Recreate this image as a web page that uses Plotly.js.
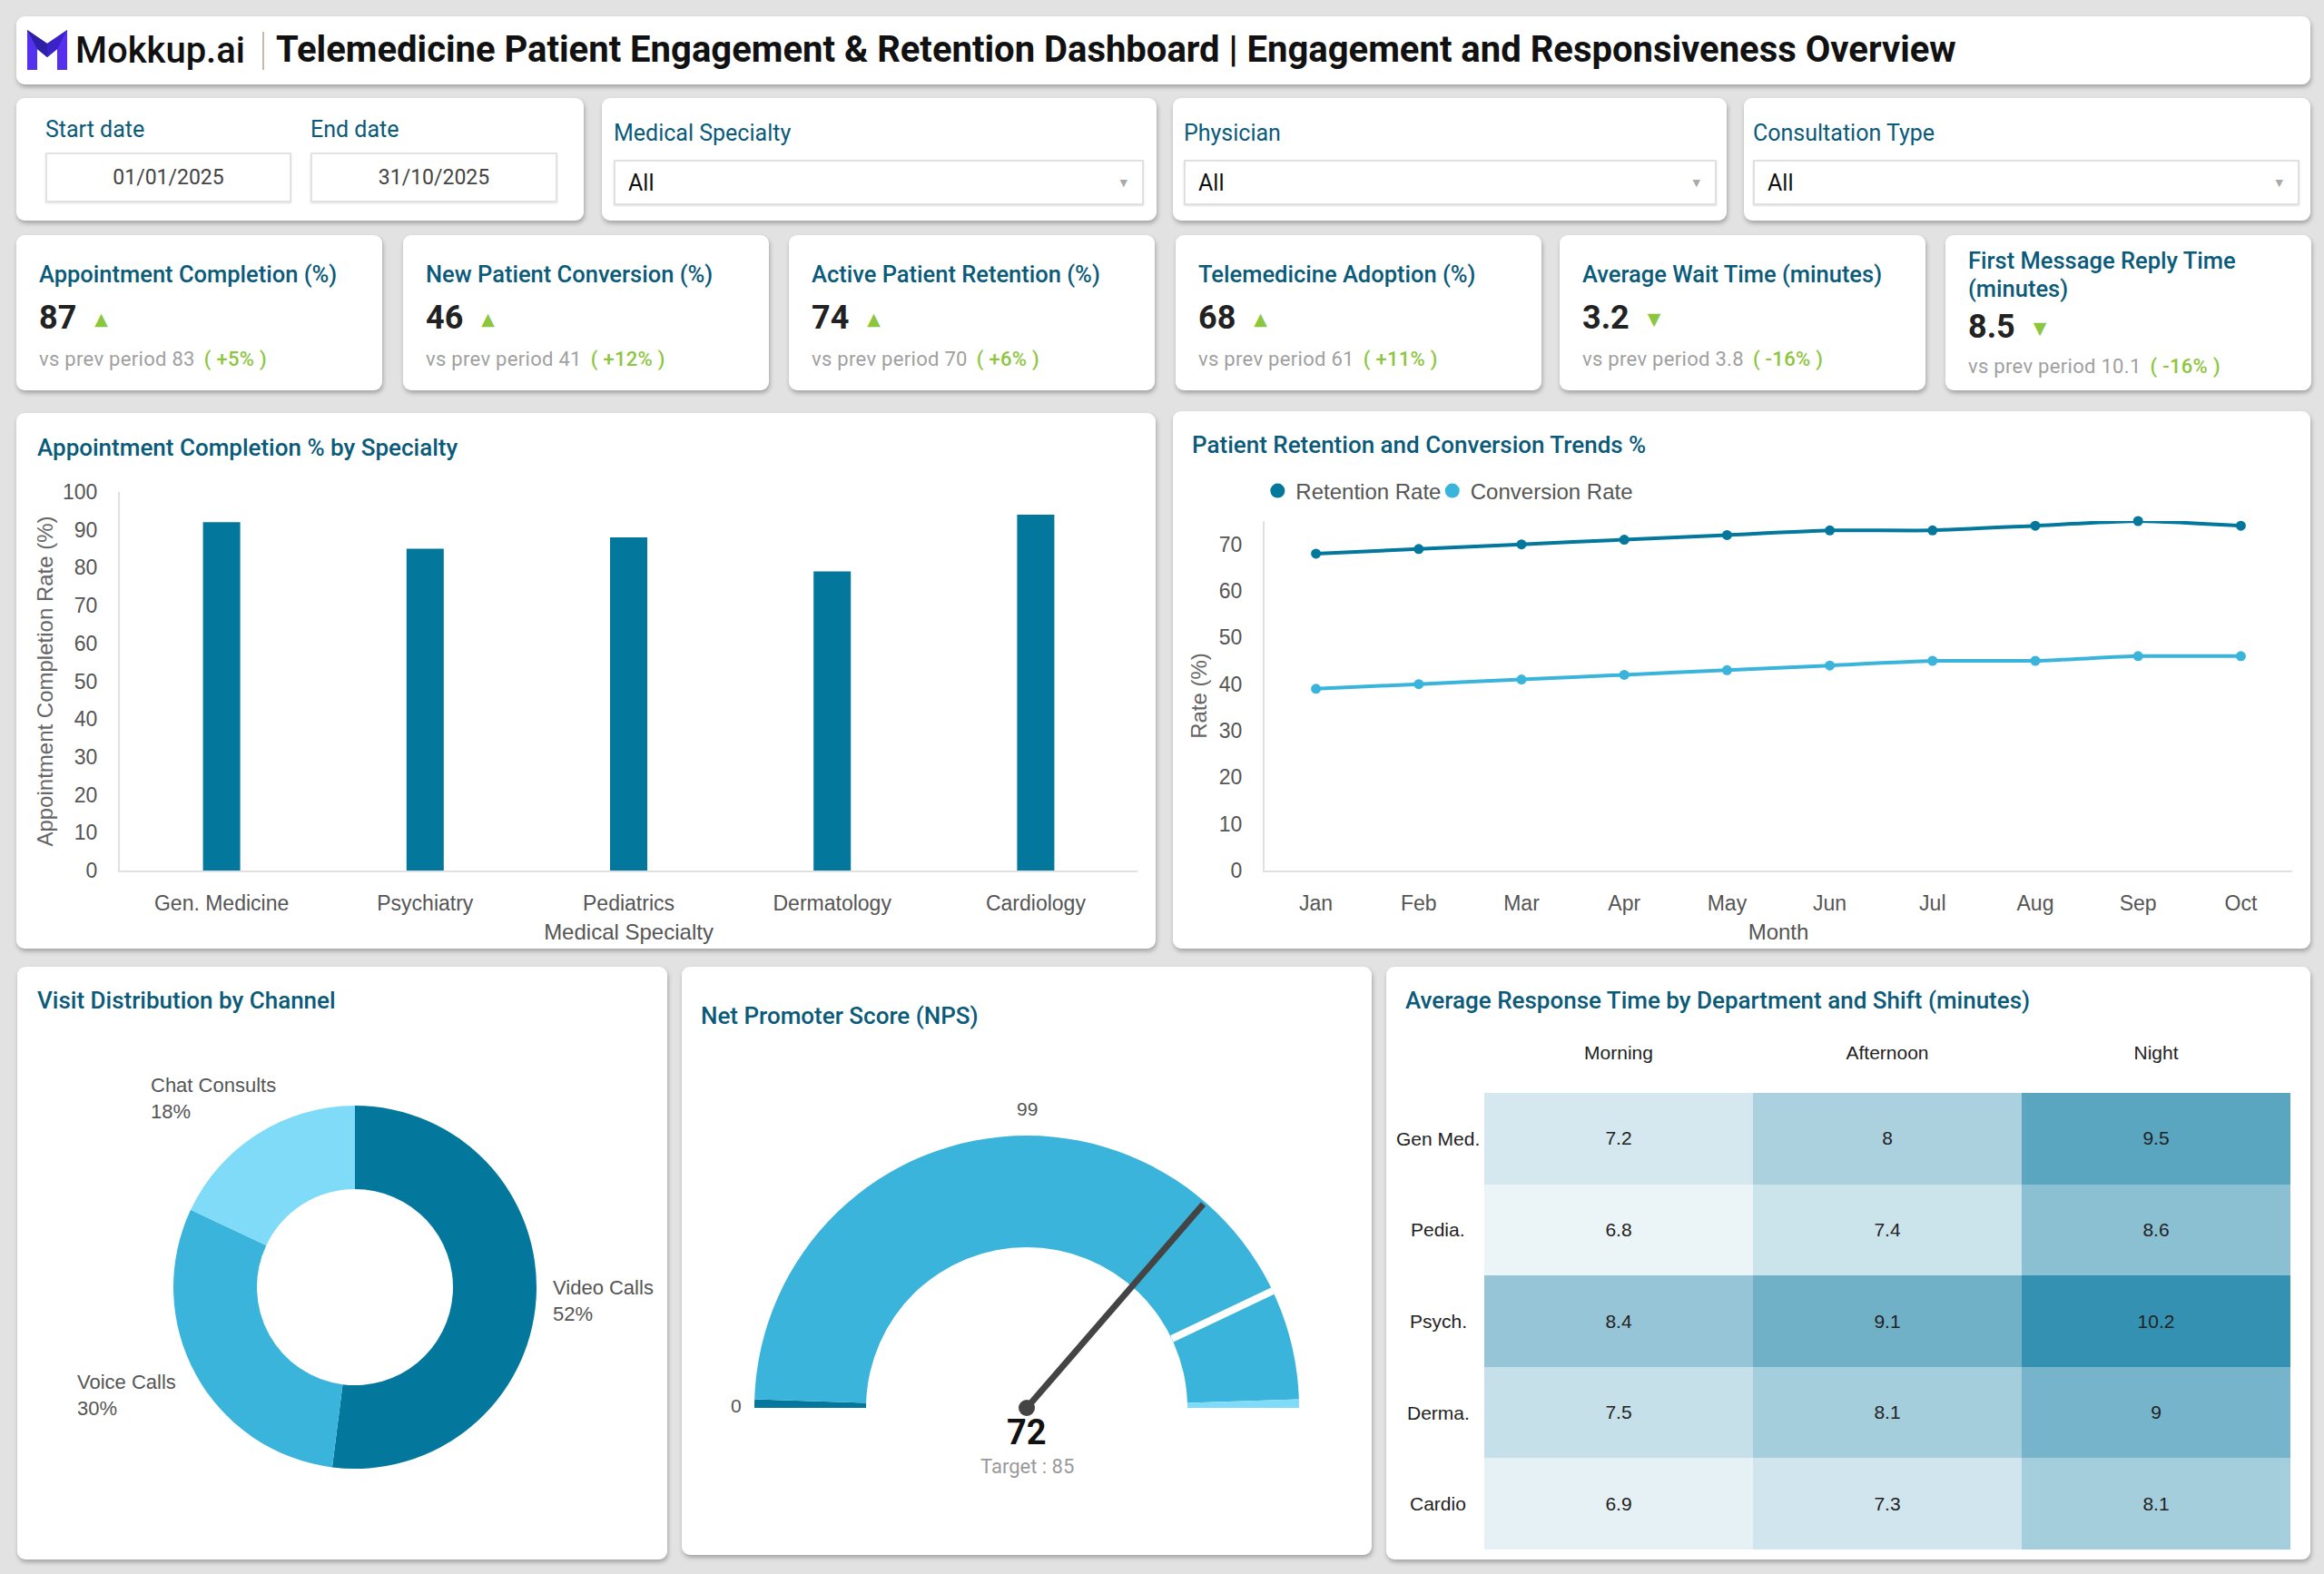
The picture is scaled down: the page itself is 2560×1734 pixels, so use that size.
<!DOCTYPE html>
<html>
<head>
<meta charset="utf-8">
<script src="https://cdn.plot.ly/plotly-3.0.1.min.js"></script>
<style>
  html, body { margin:0; padding:0; }
  body { width:2560px; height:1734px; overflow:hidden; background:#e2e2e2; position:relative; font-family:Roboto, "Liberation Sans", Arial, sans-serif; }
  .card { position:absolute; background:#fff; border-radius:9px; box-shadow:1px 3px 5px rgba(0,0,0,0.28); }
  .abs { position:absolute; white-space:nowrap; }
  .flabel { font-size:25px; line-height:30px; color:#0a5a7a; }
  .datebox { position:absolute; border:2px solid #e2e2e2; box-shadow:0 1px 2px rgba(0,0,0,0.12); font-size:23px; color:#444; display:flex; align-items:center; justify-content:center; box-sizing:border-box; }
  .dropbox { position:absolute; border:2px solid #e0e0e0; box-shadow:0 1px 2px rgba(0,0,0,0.12); font-size:25px; color:#111; box-sizing:border-box; }
  .dropbox .val { position:absolute; left:14px; top:50%; transform:translateY(-50%); }
  .dropbox .arr { position:absolute; right:16px; top:50%; transform:translateY(-50%); font-size:11px; color:#aaa; font-family:"DejaVu Sans"; }
  .ktitle { position:absolute; left:25px; font-size:25.5px; font-weight:500; line-height:31px; color:#0a5a7a; }
  .kval { position:absolute; left:25px; font-size:36px; font-weight:700; line-height:44px; color:#222; }
  .ktri { font-family:"DejaVu Sans"; font-size:19px; color:#8cc63f; margin-left:20px; vertical-align:4px; }
  .kvs { position:absolute; left:25px; font-size:22px; line-height:26px; color:#a0a0a0; letter-spacing:0.3px; }
  .kchg { color:#8cc63f; font-weight:500; margin-left:10px; }
  .ctitle { position:absolute; font-size:26px; font-weight:500; color:#0a5a7a; line-height:32px; white-space:nowrap; }
  .plot { position:absolute; }
</style>
</head>
<body>

<!-- Header -->
<div class="card" style="left:18px; top:18px; width:2527px; height:75px;">
  <svg class="abs" style="left:12px; top:15px;" width="44" height="44" viewBox="0 0 44 44">
    <polygon points="0,0 22,15 44,0 44,44 33,44 33,21 22,30 11,21 11,44 0,44" fill="#5530ef"/>
    <polygon points="0,0 22,15 22,30 11,21" fill="#2c20a6"/>
    <polygon points="44,0 22,15 22,30 33,21" fill="#3a22c4"/>
  </svg>
  <div class="abs" style="left:65px; top:15px; font-size:40px; font-weight:500; line-height:46px; color:#111;">Mokkup.ai</div>
  <div class="abs" style="left:271px; top:17px; width:2px; height:42px; background:#c8b9aa;"></div>
  <div class="abs" style="left:286px; top:14px; font-size:40px; font-weight:700; line-height:46px; color:#111;">Telemedicine Patient Engagement &amp; Retention Dashboard | Engagement and Responsiveness Overview</div>
</div>

<!-- Filters -->
<div class="card" style="left:18px; top:108px; width:625px; height:135px;">
  <div class="abs flabel" style="left:32px; top:20px;">Start date</div>
  <div class="abs flabel" style="left:324px; top:20px;">End date</div>
  <div class="datebox" style="left:32px; top:60px; width:271px; height:55px;">01/01/2025</div>
  <div class="datebox" style="left:324px; top:60px; width:272px; height:55px;">31/10/2025</div>
</div>
<div class="card" style="left:663px; top:108px; width:611px; height:135px;">
  <div class="abs flabel" style="left:13px; top:24px;">Medical Specialty</div>
  <div class="dropbox" style="left:13px; top:68px; width:584px; height:50px;"><span class="val">All</span><span class="arr">▼</span></div>
</div>
<div class="card" style="left:1292px; top:108px; width:610px; height:135px;">
  <div class="abs flabel" style="left:12px; top:24px;">Physician</div>
  <div class="dropbox" style="left:12px; top:68px; width:587px; height:50px;"><span class="val">All</span><span class="arr">▼</span></div>
</div>
<div class="card" style="left:1921px; top:108px; width:624px; height:135px;">
  <div class="abs flabel" style="left:10px; top:24px;">Consultation Type</div>
  <div class="dropbox" style="left:10px; top:68px; width:602px; height:50px;"><span class="val">All</span><span class="arr">▼</span></div>
</div>

<div id="kpis"></div>

<!-- Chart cards -->
<div class="card" style="left:18px; top:455px; width:1255px; height:590px;">
  <div class="ctitle" style="left:23px; top:22px;">Appointment Completion % by Specialty</div>
</div>
<div class="card" style="left:1292px; top:453px; width:1253px; height:592px;">
  <div class="ctitle" style="left:21px; top:21px;">Patient Retention and Conversion Trends %</div>
</div>
<div class="card" style="left:19px; top:1065px; width:716px; height:653px;">
  <div class="ctitle" style="left:22px; top:21px;">Visit Distribution by Channel</div>
</div>
<div class="card" style="left:751px; top:1065px; width:760px; height:648px;">
  <div class="ctitle" style="left:21px; top:38px;">Net Promoter Score (NPS)</div>
</div>
<div class="card" style="left:1527px; top:1065px; width:1018px; height:653px;">
  <div class="ctitle" style="left:21px; top:21px;">Average Response Time by Department and Shift (minutes)</div>
</div>

<div id="barChart" class="plot" style="left:18px; top:455px; width:1255px; height:590px;"></div>
<div id="lineChart" class="plot" style="left:1292px; top:453px; width:1253px; height:592px;"></div>
<div id="donutChart" class="plot" style="left:19px; top:1065px; width:716px; height:653px;"></div>
<div id="gaugeChart" class="plot" style="left:831px; top:1251px; width:600px; height:600px;"></div>
<div id="gaugeOverlay" class="plot" style="left:781px; top:1201px; width:700px; height:700px;"></div>
<div id="heatChart" class="plot" style="left:1527px; top:1065px; width:1018px; height:653px;"></div>

<script>
// ---------------- DATA ----------------
const kpiTitles = ["Appointment Completion (%)", "New Patient Conversion (%)", "Active Patient Retention (%)",
                   "Telemedicine Adoption (%)", "Average Wait Time (minutes)", "First Message Reply Time<br>(minutes)"];
const kpiValues = ["87", "46", "74", "68", "3.2", "8.5"];
const kpiPrev = ["83", "41", "70", "61", "3.8", "10.1"];
const kpiChange = ["+5%", "+12%", "+6%", "+11%", "-16%", "-16%"];
const kpiDirection = ["up", "up", "up", "up", "down", "down"];

const specialties = ["Gen. Medicine", "Psychiatry", "Pediatrics", "Dermatology", "Cardiology"];
const completionRates = [92, 85, 88, 79, 94];

const months = ["Jan", "Feb", "Mar", "Apr", "May", "Jun", "Jul", "Aug", "Sep", "Oct"];
const retentionRates = [68, 69, 70, 71, 72, 73, 73, 74, 75, 74];
const conversionRates = [39, 40, 41, 42, 43, 44, 45, 45, 46, 46];

const channels = ["Video Calls", "Voice Calls", "Chat Consults"];
const channelShares = [52, 30, 18];

const npsValue = 72;
const npsTarget = 85;
const npsMin = 0;
const npsMax = 99;
const npsBandEdges = [0, 1, 98, 99];

const departments = ["Gen Med.", "Pedia.", "Psych.", "Derma.", "Cardio"];
const shifts = ["Morning", "Afternoon", "Night"];
const responseTimes = [
  [7.2, 8, 9.5],
  [6.8, 7.4, 8.6],
  [8.4, 9.1, 10.2],
  [7.5, 8.1, 9],
  [6.9, 7.3, 8.1]
];

// ---------------- STYLE ----------------
const C_DARK = "#03789c", C_MID = "#3bb4dc", C_LIGHT = "#7fdbf7";
const FAM = "Liberation Sans, Arial, sans-serif";
const TICKFONT = {family: FAM, size: 23, color: "#555"};
const TITLEFONT = {family: FAM, size: 24, color: "#555"};
const YTITLEFONT = {family: FAM, size: 24, color: "#666"};
const cfg = {displayModeBar: false, staticPlot: true};

// ---------------- KPI CARDS ----------------
const kpiLefts = [18, 444, 869, 1295, 1718, 2143];
let kh = "";
kpiTitles.forEach((t, i) => {
  const two = t.indexOf("<br>") >= 0;
  const tri = kpiDirection[i] === "up" ? "▲" : "▼";
  kh += `<div class="card" style="left:${kpiLefts[i]}px; top:259px; width:403px; height:171px;">
    <div class="ktitle" style="top:${two ? 13 : 28}px;">${t}</div>
    <div class="kval" style="top:${two ? 79 : 69}px;">${kpiValues[i]}<span class="ktri">${tri}</span></div>
    <div class="kvs" style="top:${two ? 132 : 124}px;">vs prev period ${kpiPrev[i]}<span class="kchg">(&nbsp;${kpiChange[i]}&nbsp;)</span></div>
  </div>`;
});
document.getElementById("kpis").innerHTML = kh;

// ---------------- BAR CHART ----------------
Plotly.newPlot("barChart", [{
  type: "bar", x: specialties, y: completionRates,
  marker: {color: C_DARK}, hoverinfo: "skip"
}], {
  width: 1255, height: 590,
  margin: {l: 114, r: 20, t: 87, b: 86},
  paper_bgcolor: "rgba(0,0,0,0)", plot_bgcolor: "rgba(0,0,0,0)",
  bargap: 0.817,
  font: TICKFONT,
  xaxis: {
    showline: true, linecolor: "#e0e0e0", linewidth: 2, showgrid: false, zeroline: false,
    tickfont: TICKFONT, ticklabelstandoff: 14,
    title: {text: "Medical Specialty", font: TITLEFONT, standoff: 12}
  },
  yaxis: {
    range: [0, 100], dtick: 10, showline: true, linecolor: "#e0e0e0", linewidth: 2,
    showgrid: false, zeroline: false, tickfont: TICKFONT, ticklabelstandoff: 18,
    title: {text: "Appointment Completion Rate (%)", font: YTITLEFONT, standoff: 4}
  },
  showlegend: false
}, cfg);

// ---------------- LINE CHART ----------------
const LEGFONT = {family: FAM, size: 24, color: "#555"};
Plotly.newPlot("lineChart", [
  {type: "scatter", mode: "lines+markers", x: months, y: retentionRates, name: "Retention Rate",
   line: {color: C_DARK, width: 4, shape: "spline", smoothing: 0.5}, marker: {color: C_DARK, size: 11},
   showlegend: false, hoverinfo: "skip", cliponaxis: false},
  {type: "scatter", mode: "lines+markers", x: months, y: conversionRates, name: "Conversion Rate",
   line: {color: C_MID, width: 4, shape: "spline", smoothing: 0.5}, marker: {color: C_MID, size: 11},
   showlegend: false, hoverinfo: "skip", cliponaxis: false},
  {type: "scatter", mode: "markers", x: [null], y: [null], name: "Retention Rate",
   marker: {color: C_DARK, size: 16}, showlegend: true, legend: "legend"},
  {type: "scatter", mode: "markers", x: [null], y: [null], name: "Conversion Rate",
   marker: {color: C_MID, size: 16}, showlegend: true, legend: "legend2"}
], {
  width: 1253, height: 592,
  margin: {l: 101, r: 20, t: 121, b: 86},
  paper_bgcolor: "rgba(0,0,0,0)", plot_bgcolor: "rgba(0,0,0,0)",
  font: TICKFONT,
  xaxis: {
    type: "category", range: [-0.5, months.length - 0.5],
    showline: true, linecolor: "#e0e0e0", linewidth: 2, showgrid: false, zeroline: false,
    tickfont: TICKFONT, ticklabelstandoff: 14,
    title: {text: "Month", font: TITLEFONT, standoff: 12}
  },
  yaxis: {
    range: [0, 75], dtick: 10, showline: true, linecolor: "#e0e0e0", linewidth: 2,
    showgrid: false, zeroline: false, tickfont: TICKFONT, ticklabelstandoff: 18,
    title: {text: "Rate (%)", font: YTITLEFONT, standoff: 6}
  },
  showlegend: true,
  legend: {orientation: "h", x: -0.005, xanchor: "left", y: 1.0857, yanchor: "middle",
           font: LEGFONT, bgcolor: "rgba(0,0,0,0)", itemclick: false},
  legend2: {orientation: "h", x: 0.165, xanchor: "left", y: 1.0857, yanchor: "middle",
           font: LEGFONT, bgcolor: "rgba(0,0,0,0)", itemclick: false}
}, cfg);

// ---------------- DONUT ----------------
// donut geometry inside its 716x653 card
const DW = 716, DH = 653, DCX = 372, DCY = 353, DR = 200;
const shareTotal = channelShares.reduce((a, b) => a + b, 0);
let cum = 0;
const donutLabels = channels.map((name, i) => {
  const midFrac = (cum + channelShares[i] / 2) / shareTotal;
  cum += channelShares[i];
  const ang = midFrac * 2 * Math.PI;          // clockwise from 12 o'clock
  const px = DCX - 6 + DR * 1.4 * Math.sin(ang), py = DCY - DR * 1.23 * Math.cos(ang);
  return {
    xref: "paper", yref: "paper", x: px / DW, y: 1 - py / DH,
    xanchor: "center", yanchor: "middle", align: "left", showarrow: false,
    text: name + "<br>" + Math.round(channelShares[i] / shareTotal * 100) + "%",
    font: {family: FAM, size: 22, color: "#555"}
  };
});
Plotly.newPlot("donutChart", [{
  type: "pie", labels: channels, values: channelShares, hole: 0.54, sort: false,
  direction: "clockwise", rotation: 0,
  marker: {colors: [C_DARK, C_MID, C_LIGHT], line: {width: 0}},
  textinfo: "none",
  domain: {x: [(DCX - DR) / DW, (DCX + DR) / DW], y: [1 - (DCY + DR) / DH, 1 - (DCY - DR) / DH]},
  hoverinfo: "skip"
}], {
  width: DW, height: DH, margin: {l: 0, r: 0, t: 0, b: 0},
  paper_bgcolor: "rgba(0,0,0,0)", showlegend: false,
  annotations: donutLabels
}, cfg);

// ---------------- GAUGE ----------------
const bandValues = [];
for (let i = 1; i < npsBandEdges.length; i++) bandValues.push(npsBandEdges[i] - npsBandEdges[i - 1]);
bandValues.push(npsMax - npsMin); // hidden lower half
const bandColors = [C_DARK, C_MID, C_LIGHT, "rgba(0,0,0,0)"];
const angOf = v => Math.PI * (1 - (v - npsMin) / (npsMax - npsMin));
const aNeedle = angOf(npsValue), aTarget = angOf(npsTarget);
const HOLE = 0.59;

Plotly.newPlot("gaugeChart", [
  {type: "pie", values: bandValues, sort: false, direction: "clockwise", rotation: 270,
   hole: HOLE, marker: {colors: bandColors, line: {width: 0}}, textinfo: "none",
   hoverinfo: "skip", showlegend: false, domain: {x: [0, 1], y: [0, 1]}}
], {
  width: 600, height: 600, margin: {l: 0, r: 0, t: 0, b: 0},
  paper_bgcolor: "rgba(0,0,0,0)", showlegend: false
}, cfg);

const OR = 350 / 300; // overlay half-size in gauge-radius units
Plotly.newPlot("gaugeOverlay", [
  {type: "scatter", mode: "lines", x: [HOLE * Math.cos(aTarget), Math.cos(aTarget)],
   y: [HOLE * Math.sin(aTarget), Math.sin(aTarget)], line: {color: "#ffffff", width: 8},
   hoverinfo: "skip", showlegend: false, cliponaxis: false},
  {type: "scatter", mode: "lines", x: [0, 0.99 * Math.cos(aNeedle)], y: [0, 0.99 * Math.sin(aNeedle)],
   line: {color: "#444", width: 7}, hoverinfo: "skip", showlegend: false, cliponaxis: false},
  {type: "scatter", mode: "markers", x: [0], y: [0], marker: {color: "#444", size: 18},
   hoverinfo: "skip", showlegend: false, cliponaxis: false}
], {
  width: 700, height: 700, margin: {l: 0, r: 0, t: 0, b: 0},
  paper_bgcolor: "rgba(0,0,0,0)", plot_bgcolor: "rgba(0,0,0,0)",
  xaxis: {range: [-OR, OR], visible: false, fixedrange: true},
  yaxis: {range: [-OR, OR], visible: false, fixedrange: true},
  showlegend: false,
  annotations: [
    {x: 0, y: -0.09, xref: "x", yref: "y", text: "<b>" + npsValue + "</b>", showarrow: false,
     font: {family: "Roboto", size: 38, color: "#111"}},
    {x: 0, y: -0.215, xref: "x", yref: "y", text: "Target : " + npsTarget, showarrow: false,
     font: {family: "Roboto", size: 22, color: "#9a9a9a"}},
    {x: -1.067, y: 0.01, xref: "x", yref: "y", text: String(npsMin), showarrow: false,
     font: {family: FAM, size: 21, color: "#555"}},
    {x: 0, y: 1.1, xref: "x", yref: "y", text: String(npsMax), showarrow: false,
     font: {family: FAM, size: 21, color: "#555"}}
  ]
}, cfg);

// ---------------- HEATMAP ----------------
Plotly.newPlot("heatChart", [{
  type: "heatmap", x: shifts, y: departments, z: responseTimes,
  colorscale: [[0, "#ebf4f7"], [1, "#3591b2"]], showscale: false,
  texttemplate: "%{z}", textfont: {family: FAM, size: 21, color: "#222"},
  hoverinfo: "skip"
}], {
  width: 1018, height: 653, margin: {l: 108, r: 22, t: 139, b: 11},
  paper_bgcolor: "rgba(0,0,0,0)", plot_bgcolor: "rgba(0,0,0,0)",
  xaxis: {side: "top", showgrid: false, zeroline: false, showline: false, ticks: "",
          tickfont: {family: FAM, size: 21, color: "#222"}, ticklabelstandoff: 32},
  yaxis: {autorange: "reversed", showgrid: false, zeroline: false, showline: false,
          showticklabels: false, ticks: ""},
  annotations: departments.map(d => ({
    xref: "paper", yref: "y", x: -51 / 888, y: d, text: d, showarrow: false, xanchor: "center",
    font: {family: FAM, size: 21, color: "#222"}
  }))
}, cfg);
</script>
</body>
</html>
